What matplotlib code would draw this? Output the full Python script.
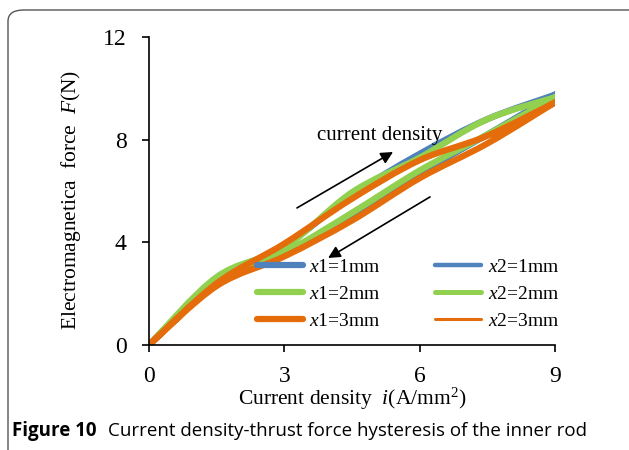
import numpy as np
import matplotlib.pyplot as plt
from matplotlib.path import Path
from matplotlib.patches import PathPatch, FancyBboxPatch
from matplotlib.lines import Line2D

plt.rcParams['font.family'] = ['Liberation Serif', 'DejaVu Serif']
plt.rcParams['mathtext.fontset'] = 'custom'
plt.rcParams['mathtext.rm'] = 'Liberation Serif'
plt.rcParams['mathtext.it'] = 'Liberation Serif:italic'

# 电流密度 (A/mm2)
current = [0, 1.5, 3, 4.5, 6, 7.5, 9]

# 上升段 / 下降段 推力 (N)
x1_1mm_up = [0, 2.55, 3.85, 5.85, 7.45, 8.8, 9.75]
x1_1mm_down = [0, 2.4, 3.55, 5.05, 6.7, 8.2, 9.75]
x2_1mm_up = [0, 2.5, 3.8, 5.8, 7.4, 8.75, 9.7]
x2_1mm_down = [0, 2.35, 3.6, 5.1, 6.65, 8.15, 9.7]
x1_2mm_up = [0, 2.65, 3.8, 5.95, 7.3, 8.8, 9.65]
x1_2mm_down = [0, 2.45, 3.6, 5.15, 6.8, 8.2, 9.65]
x2_2mm_up = [0, 2.6, 3.75, 5.9, 7.3, 8.75, 9.6]
x2_2mm_down = [0, 2.45, 3.55, 5.2, 6.8, 8.2, 9.6]
x1_3mm_up = [0, 2.4, 3.95, 5.7, 7.2, 8.15, 9.45]
x1_3mm_down = [0, 2.3, 3.45, 4.85, 6.5, 7.85, 9.45]
x2_3mm_up = [0, 2.4, 3.9, 5.75, 7.15, 8.2, 9.5]
x2_3mm_down = [0, 2.35, 3.5, 4.9, 6.55, 7.9, 9.5]

labels = ['$x$1=1mm', '$x$1=2mm', '$x$1=3mm', '$x$2=1mm', '$x$2=2mm', '$x$2=3mm']
blue = '#4F81BD'
green = '#92D050'
orange = '#E46C0A'


def smooth_path(xs, ys):
    # Catmull-Rom -> Bezier, 类似 Excel 平滑线
    pts = np.column_stack([xs, ys]).astype(float)
    verts = [pts[0]]
    codes = [Path.MOVETO]
    n = len(pts)
    for k in range(n - 1):
        p0 = pts[k - 1] if k > 0 else pts[k]
        p1 = pts[k]
        p2 = pts[k + 1]
        p3 = pts[k + 2] if k + 2 < n else pts[k + 1]
        c1 = p1 + (p2 - p0) / 6.0
        c2 = p2 - (p3 - p1) / 6.0
        verts += [c1, c2, p2]
        codes += [Path.CURVE4] * 3
    return Path(verts, codes)


def draw_loop(ax, up, down, color, lw):
    xs = current + current[::-1]
    ys = up + down[::-1]
    ax.add_patch(PathPatch(smooth_path(xs, ys), fill=False, edgecolor=color,
                           lw=lw, capstyle='round', joinstyle='round'))


fig = plt.figure(figsize=(6.29, 4.5), dpi=100)

# 外框
frame = FancyBboxPatch((8 / 629, -0.05), 1.05, 1 - 10 / 450 + 0.05,
                       boxstyle='round,pad=0,rounding_size=0.025',
                       transform=fig.transFigure, fill=False,
                       edgecolor='#555555', lw=1.0)
fig.patches.append(frame)

ax = fig.add_axes([149 / 629, 1 - 345 / 450, 406 / 629, 308 / 450])

thick = 4.5
thin = 2.6
draw_loop(ax, x1_1mm_up, x1_1mm_down, blue, thick)
draw_loop(ax, x2_1mm_up, x2_1mm_down, blue, thin)
draw_loop(ax, x1_2mm_up, x1_2mm_down, green, thick)
draw_loop(ax, x2_2mm_up, x2_2mm_down, green, thin)
draw_loop(ax, x1_3mm_up, x1_3mm_down, orange, thick)
draw_loop(ax, x2_3mm_up, x2_3mm_down, orange, 2.0)

ax.set_xlim(0, 9)
ax.set_ylim(0, 12)
ax.set_xticks([0, 3, 6, 9])
ax.set_yticks([0, 4, 8, 12])
ax.spines['top'].set_visible(False)
ax.spines['right'].set_visible(False)
ax.spines['left'].set_linewidth(1.2)
ax.spines['bottom'].set_linewidth(1.2)
ax.tick_params(direction='out', length=5, width=1.2, labelsize=17)
ax.tick_params(axis='x', pad=10)
ax.tick_params(axis='y', pad=11)
ax.patch.set_visible(False)

ax.set_xlabel('Current density  $i$(A/mm$^2$)', fontsize=15.5, labelpad=-1)
ax.set_ylabel('Electromagnetica  force  $F$(N)', fontsize=15.5)
ax.yaxis.set_label_coords(-0.163, 0.47)

# 箭头
ax.annotate('', xy=(5.41, 7.52), xytext=(3.28, 5.34),
            arrowprops=dict(arrowstyle='-|>', color='black', lw=1.2,
                            mutation_scale=18, shrinkA=0, shrinkB=0))
ax.annotate('', xy=(3.97, 3.39), xytext=(6.23, 5.77),
            arrowprops=dict(arrowstyle='-|>', color='black', lw=1.2,
                            mutation_scale=18, shrinkA=0, shrinkB=0))
ax.text(5.12, 8.18, 'current density', fontsize=15, ha='center', va='center')

handles = [Line2D([], [], color=blue, lw=thick, solid_capstyle='round'),
           Line2D([], [], color=green, lw=thick, solid_capstyle='round'),
           Line2D([], [], color=orange, lw=thick, solid_capstyle='round'),
           Line2D([], [], color=blue, lw=3.2, solid_capstyle='round'),
           Line2D([], [], color=green, lw=3.6, solid_capstyle='round'),
           Line2D([], [], color=orange, lw=2.2, solid_capstyle='round')]
ax.legend(handles, labels, ncol=2, frameon=False, fontsize=14,
          loc='upper left', bbox_to_anchor=(0.266, 0.2825),
          handlelength=2.35, handletextpad=0.35, columnspacing=2.8,
          labelspacing=0.5, borderaxespad=0, borderpad=0)

fig.text(12 / 629, 1 - 431 / 450, 'Figure 10', fontsize=13.5, fontweight='bold',
         family='Open Sans', va='center', ha='left')
fig.text(108 / 629, 1 - 431 / 450, 'Current density-thrust force hysteresis of the inner rod',
         fontsize=13.5, family='Open Sans', va='center', ha='left')

fig.savefig('out.png', dpi=100)
